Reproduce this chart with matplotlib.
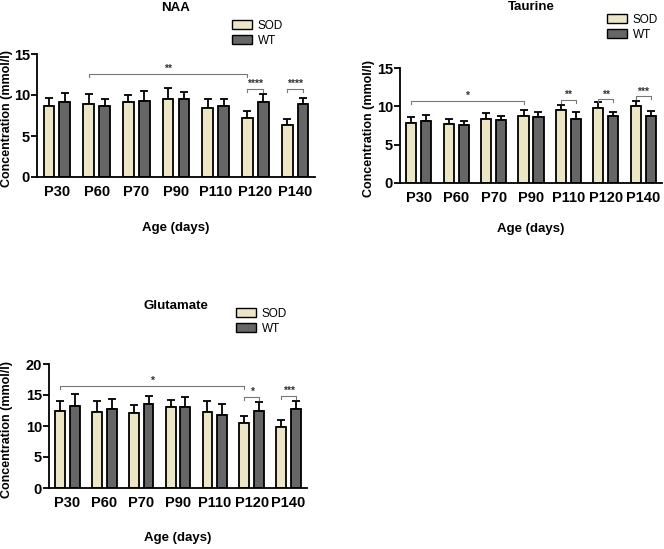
import numpy as np
import matplotlib.pyplot as plt
from matplotlib.patches import Patch

plt.rcParams['font.family'] = ['Liberation Sans', 'DejaVu Sans']

# Data
AGES = ["P30", "P60", "P70", "P90", "P110", "P120", "P140"]

naa_sod = [8.7, 8.95, 9.2, 9.55, 8.4, 7.2, 6.3]
naa_sod_err = [0.9, 1.15, 0.8, 1.35, 1.15, 0.9, 0.75]
naa_wt = [9.2, 8.7, 9.3, 9.5, 8.7, 9.2, 8.95]
naa_wt_err = [1.1, 0.85, 1.15, 0.85, 0.8, 0.9, 0.7]

tau_sod = [7.85, 7.75, 8.3, 8.8, 9.5, 9.8, 10.1]
tau_sod_err = [0.7, 0.65, 0.85, 0.7, 0.7, 0.75, 0.65]
tau_wt = [8.15, 7.6, 8.25, 8.6, 8.4, 8.7, 8.8]
tau_wt_err = [0.75, 0.5, 0.55, 0.65, 0.85, 0.55, 0.6]

glu_sod = [12.5, 12.3, 12.1, 13.0, 12.25, 10.45, 9.8]
glu_sod_err = [1.5, 1.8, 1.3, 1.25, 1.75, 1.1, 1.2]
glu_wt = [13.3, 12.8, 13.6, 13.1, 11.8, 12.45, 12.75]
glu_wt_err = [1.9, 1.6, 1.3, 1.6, 1.8, 1.5, 1.25]

# significance brackets: (x1, x2, height, label) in group/bar units
naa_sig = [(1 - 0.2, 5 - 0.2, 12.6, "**"), (5 - 0.2, 5 + 0.2, 10.7, "****"),
           (6 - 0.2, 6 + 0.2, 10.7, "****")]
tau_sig = [(0 - 0.2, 3 - 0.2, 10.7, "*"), (4 - 0.2, 4 + 0.2, 10.8, "**"),
           (5 - 0.2, 5 + 0.2, 10.9, "**"), (6 - 0.2, 6 + 0.2, 11.3, "***")]
glu_sig = [(0 - 0.2, 5 - 0.2, 16.5, "*"), (5 - 0.2, 5 + 0.2, 14.7, "*"),
           (6 - 0.2, 6 + 0.2, 14.8, "***")]

SOD_COLOR = "#ece6c6"
WT_COLOR = "#666666"
BRACKET_COLOR = "#777777"
W = 0.27
OFF = 0.2


def draw_panel(fig, rect, title, sod, sod_err, wt, wt_err, sig, ymax, ystep,
               title_xy, legend_xy, ylabel_x, xlabel_y):
    ax = fig.add_axes(rect)
    x = np.arange(len(AGES))
    ax.bar(x - OFF, sod, W, color=SOD_COLOR, edgecolor="black", linewidth=1.3, zorder=2)
    ax.bar(x + OFF, wt, W, color=WT_COLOR, edgecolor="black", linewidth=1.3, zorder=2)
    zeros = np.zeros(len(AGES))
    ax.errorbar(x - OFF, sod, yerr=[zeros, sod_err], fmt="none", ecolor="black",
                elinewidth=1.3, capsize=3, capthick=1.3, zorder=1)
    ax.errorbar(x + OFF, wt, yerr=[zeros, wt_err], fmt="none", ecolor="black",
                elinewidth=1.3, capsize=3, capthick=1.3, zorder=1)

    tip = ymax * 0.025
    for x1, x2, h, lab in sig:
        ax.plot([x1, x1, x2, x2], [h - tip, h, h, h - tip], color=BRACKET_COLOR,
                linewidth=0.8, clip_on=False)
        ax.text((x1 + x2) / 2, h, lab, ha="center", va="bottom", fontsize=7.5,
                fontweight="bold", color="#333333")

    ax.set_xlim(-0.5, len(AGES) - 0.5)
    ax.set_ylim(0, ymax)
    ax.set_yticks(np.arange(0, ymax + 0.1, ystep))
    ax.set_xticks(x)
    ax.set_xticklabels(AGES, fontsize=10.5, fontweight="bold")
    for lab in ax.get_yticklabels():
        lab.set_fontsize(10.5)
        lab.set_fontweight("bold")
    ax.tick_params(axis="x", length=0, pad=6)
    ax.tick_params(axis="y", length=4, width=1.3, pad=1)
    for s in ["top", "right"]:
        ax.spines[s].set_visible(False)
    for s in ["left", "bottom"]:
        ax.spines[s].set_linewidth(1.3)

    fig.text(title_xy[0] / 664, 1 - title_xy[1] / 549, title, ha="center",
             va="center", fontsize=9.5, fontweight="bold")
    fig.text(ylabel_x / 664, rect[1] + rect[3] / 2 * 0.95, "Concentration (mmol/l)",
             rotation=90, ha="center", va="center", fontsize=9, fontweight="bold")
    fig.text(rect[0] + rect[2] / 2, 1 - xlabel_y / 549, "Age (days)", ha="center",
             va="center", fontsize=9.5, fontweight="bold")

    handles = [Patch(facecolor=SOD_COLOR, edgecolor="black", linewidth=1.0),
               Patch(facecolor=WT_COLOR, edgecolor="black", linewidth=1.0)]
    fig.legend(handles, ["SOD", "WT"], loc="upper left",
               bbox_to_anchor=(legend_xy[0] / 664, 1 - legend_xy[1] / 549),
               frameon=False, fontsize=8.5, handlelength=1.7, handleheight=0.8,
               handletextpad=0.5, labelspacing=0.25, borderpad=0, borderaxespad=0)
    return ax


fig = plt.figure(figsize=(6.64, 5.49), dpi=100)

draw_panel(fig, [37 / 664, 1 - 177 / 549, 278 / 664, 123 / 549], "NAA",
           naa_sod, naa_sod_err, naa_wt, naa_wt_err, naa_sig, 15, 5,
           (176, 8), (232, 20), 7, 228)
draw_panel(fig, [400 / 664, 1 - 183 / 549, 262 / 664, 115 / 549], "Taurine",
           tau_sod, tau_sod_err, tau_wt, tau_wt_err, tau_sig, 15, 5,
           (531, 7), (607, 14), 369, 229)
draw_panel(fig, [49 / 664, 1 - 488 / 549, 258 / 664, 124 / 549], "Glutamate",
           glu_sod, glu_sod_err, glu_wt, glu_wt_err, glu_sig, 20, 5,
           (176, 306), (236, 308), 7, 538)

fig.savefig("out.png", dpi=100)
